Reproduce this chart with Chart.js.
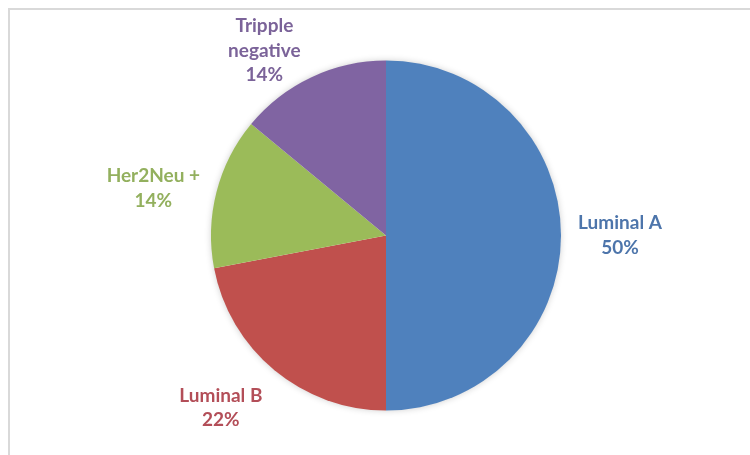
<!DOCTYPE html>
<html>
<head>
<meta charset="utf-8">
<script src="https://cdn.jsdelivr.net/npm/chart.js@4/dist/chart.umd.min.js"></script>
<style>
  html, body { margin: 0; padding: 0; background: #ffffff; }
  #frame {
    position: absolute; left: 0; top: 0; width: 750px; height: 455px;
  }
  #edge {
    position: absolute; left: 8px; top: 8px; right: 0; bottom: 0;
    border-top: 2px solid #d9d9d9; border-left: 2px solid #d9d9d9;
  }
  canvas { position: absolute; left: 0; top: 0; }
</style>
</head>
<body>
<div id="frame">
  <div id="edge"></div>
  <canvas id="pie" width="750" height="455"></canvas>
</div>
<script>
// Breast cancer molecular subtypes, share of cases
const categories = [['Luminal A'], ['Luminal B'], ['Her2Neu +'], ['Tripple', 'negative']];
const shares = [50, 22, 14, 14];
const sliceColors = ['#4f81bd', '#c0504d', '#9bbb59', '#8064a2'];
const labelColors = ['#4d75ab', '#b34e58', '#93b05e', '#7b6399'];

// Per-label nudges (px) applied after placing each label along its slice's bisector
const labelNudges = [[0, 0], [-16, -8], [-6, 11], [-22, 27]];

const softShadow = {
  id: 'softShadow',
  beforeDatasetsDraw(chart) {
    const arc = chart.getDatasetMeta(0).data[0];
    if (!arc) return;
    const ctx = chart.ctx;
    ctx.save();
    ctx.shadowColor = 'rgba(0,0,0,0.22)';
    ctx.shadowBlur = 7;
    ctx.fillStyle = '#ffffff';
    ctx.beginPath();
    ctx.arc(arc.x, arc.y, arc.outerRadius - 0.5, 0, Math.PI * 2);
    ctx.fill();
    ctx.restore();
  }
};

const outsideLabels = {
  id: 'outsideLabels',
  afterDatasetsDraw(chart, args, opts) {
    const ctx = chart.ctx;
    const meta = chart.getDatasetMeta(0);
    const data = chart.data.datasets[0].data;
    const total = data.reduce((a, b) => a + b, 0);
    ctx.save();
    ctx.font = opts.font;
    ctx.textAlign = 'center';
    ctx.textBaseline = 'middle';
    meta.data.forEach((arc, i) => {
      const mid = (arc.startAngle + arc.endAngle) / 2;
      const d = arc.outerRadius + opts.distance;
      const nudge = opts.nudges[i] || [0, 0];
      const cx = arc.x + Math.cos(mid) * d + nudge[0];
      const cy = arc.y + Math.sin(mid) * d + nudge[1];
      const lines = [].concat(chart.data.labels[i], Math.round(data[i] / total * 100) + '%');
      ctx.fillStyle = opts.colors[i];
      lines.forEach((t, k) => {
        ctx.fillText(t, cx, cy + (k - (lines.length - 1) / 2) * opts.lineHeight);
      });
    });
    ctx.restore();
  }
};

new Chart(document.getElementById('pie'), {
  type: 'pie',
  data: {
    labels: categories,
    datasets: [{
      data: shares,
      backgroundColor: sliceColors,
      borderWidth: 0,
      hoverOffset: 0
    }]
  },
  options: {
    responsive: false,
    animation: false,
    layout: { padding: { left: 211, right: 189, top: 60, bottom: 44 } },
    plugins: {
      legend: { display: false },
      tooltip: { enabled: false },
      outsideLabels: {
        font: 'bold 19px Lato',
        lineHeight: 24.5,
        distance: 59,
        colors: labelColors,
        nudges: labelNudges
      }
    }
  },
  plugins: [softShadow, outsideLabels]
});
</script>
</body>
</html>
